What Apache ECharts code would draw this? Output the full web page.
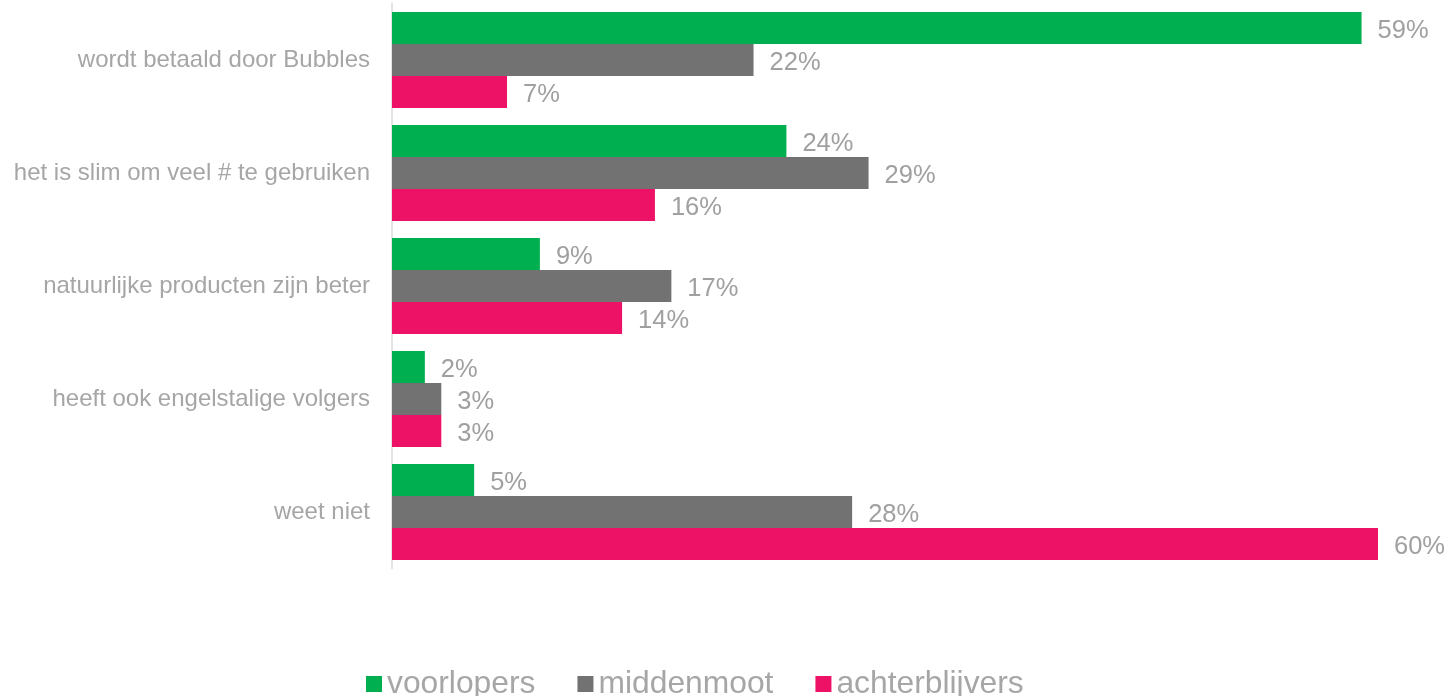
<!DOCTYPE html>
<html>
<head>
<meta charset="utf-8">
<style>
  html, body { margin: 0; padding: 0; background: #ffffff; }
  #chart { width: 1450px; height: 696px; }
</style>
<script src="https://cdn.jsdelivr.net/npm/echarts@6/dist/echarts.min.js"></script>
</head>
<body>
<div id="chart"></div>
<script>
// Statements, top to bottom
const categories = [
  'wordt betaald door Bubbles',
  'het is slim om veel # te gebruiken',
  'natuurlijke producten zijn beter',
  'heeft ook engelstalige volgers',
  'weet niet'
];
const seriesNames = ['voorlopers', 'middenmoot', 'achterblijvers'];
// Percentages per group
const voorlopers = [59, 24, 9, 2, 5];
const middenmoot = [22, 29, 17, 3, 28];
const achterblijvers = [7, 16, 14, 3, 60];

const colors = ['#00b050', '#727272', '#ee1266'];
const dataSets = [voorlopers, middenmoot, achterblijvers];

const chart = echarts.init(document.getElementById('chart'));
const fontFamily = 'Liberation Sans, Arial, Helvetica, sans-serif';

chart.setOption({
  animation: false,
  textStyle: { fontFamily: fontFamily },
  grid: { left: 392, right: 72, top: 3.5, bottom: 127.5, containLabel: false },
  legend: {
    data: seriesNames,
    left: 361,
    top: 663,
    icon: 'rect',
    itemWidth: 16,
    itemHeight: 16,
    itemGap: 42,
    textStyle: { color: '#a6a6a6', fontSize: 31.8, fontFamily: fontFamily }
  },
  xAxis: {
    type: 'value',
    min: 0,
    max: 60,
    show: false
  },
  yAxis: {
    type: 'category',
    data: categories,
    inverse: true,
    axisLine: { show: true, lineStyle: { color: '#e3e3e3', width: 2 } },
    axisTick: { show: false },
    axisLabel: { color: '#a6a6a6', fontSize: 24, margin: 22, fontFamily: fontFamily, padding: [6, 0, 0, 0] },
    splitLine: { show: false }
  },
  series: dataSets.map((d, i) => ({
    name: seriesNames[i],
    type: 'bar',
    data: d,
    barGap: '0%',
    barCategoryGap: '15%',
    itemStyle: { color: colors[i] },
    label: {
      show: true,
      position: 'right',
      distance: 16,
      offset: [0, 3],
      formatter: '{c}%',
      color: '#a0a0a0',
      fontSize: 25.5,
      fontFamily: fontFamily
    }
  }))
});
</script>
</body>
</html>
